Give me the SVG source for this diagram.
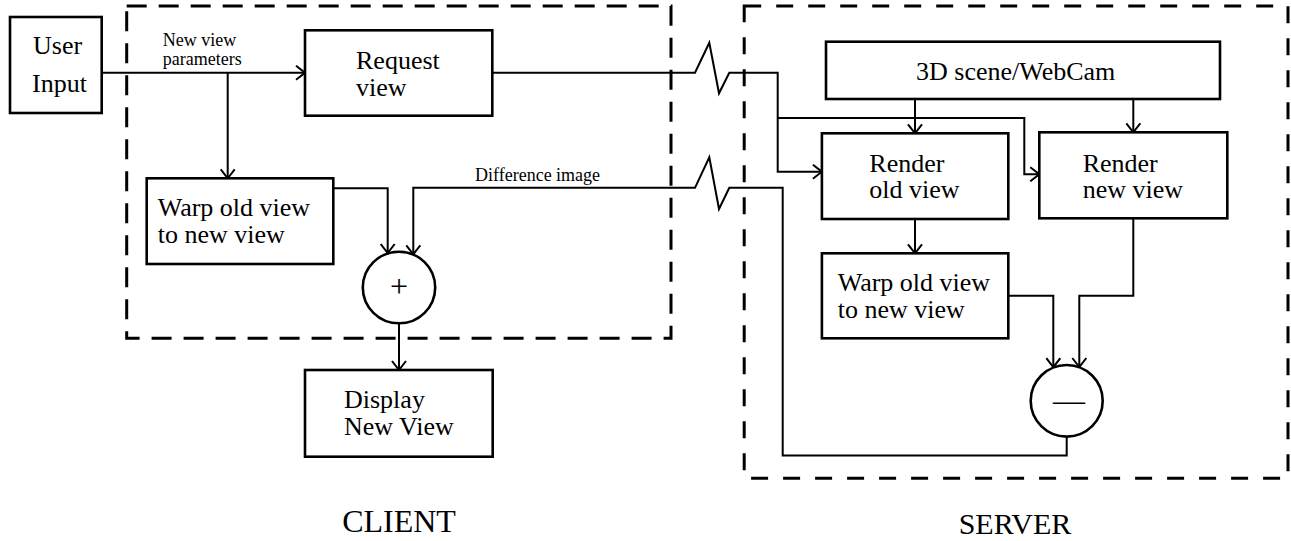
<svg xmlns="http://www.w3.org/2000/svg" width="1291" height="541" viewBox="0 0 1291 541">
<style>
.box{fill:#fff;stroke:#000;stroke-width:2.6}
.circ{fill:#fff;stroke:#000;stroke-width:2.6}
.dash{fill:none;stroke:#000;stroke-width:3}
.ln{fill:none;stroke:#000;stroke-width:2}
.t{font-family:"Liberation Serif","Times New Roman",serif;font-size:26px;fill:#000}
.s{font-family:"Liberation Serif","Times New Roman",serif;font-size:18px;fill:#000}
.big{font-family:"Liberation Serif","Times New Roman",serif;font-size:31px;fill:#000}
</style>
<defs>
<marker id="arr" viewBox="-11 -8 12 16" refX="0" refY="0" markerWidth="12" markerHeight="16" markerUnits="userSpaceOnUse" orient="auto">
<path d="M-9,-7 L0,0 L-9,7" fill="none" stroke="#000" stroke-width="2"/>
</marker>
</defs>
<rect width="1291" height="541" fill="#fff"/>

<g id="client-frame">
<rect class="dash" x="126.7" y="6" width="544.3" height="332.3" stroke-dasharray="20 12"/>
</g>
<g id="server-frame">
<rect class="dash" x="744.2" y="6" width="543.8" height="472.3" stroke-dasharray="17 15"/>
</g>

<g id="connectors">
<path class="ln" d="M101.7,72.7 H305" marker-end="url(#arr)"/>
<path class="ln" d="M227.7,72.7 V178.3" marker-end="url(#arr)"/>
<path class="ln" d="M333.3,188.3 H387.7 V253" marker-end="url(#arr)"/>
<path class="ln" d="M1066.7,436.7 V455.5 H782.7 V187.8 H729.3 L719,209 L709.3,157.3 L695,187.8 H413.3 V254.3" marker-end="url(#arr)"/>
<path class="ln" d="M492.3,72.7 H695 L709.3,42.7 L719,93.3 L729.3,72.7 H777.7 V171.7 H821.9" marker-end="url(#arr)"/>
<path class="ln" d="M777.7,118 H1024.3 V174.3 H1039.3" marker-end="url(#arr)"/>
<path class="ln" d="M915,99 V133.3" marker-end="url(#arr)"/>
<path class="ln" d="M1133.3,99 V132.3" marker-end="url(#arr)"/>
<path class="ln" d="M915,219 V253.3" marker-end="url(#arr)"/>
<path class="ln" d="M1008.3,295.7 H1053.3 V367.2" marker-end="url(#arr)"/>
<path class="ln" d="M1133.3,218.3 V295.7 H1079.3 V367" marker-end="url(#arr)"/>
<path class="ln" d="M399,323.3 V370" marker-end="url(#arr)"/>
<text class="s"><tspan x="162.7" y="45.5">New view</tspan><tspan x="162.7" y="64.5">parameters</tspan></text>
<text class="s" x="475" y="181">Difference image</text>
</g>

<g id="user-input">
<rect class="box" x="10" y="17" width="91.7" height="96"/>
<text class="t"><tspan x="33" y="54">User</tspan><tspan x="32" y="92.3">Input</tspan></text>
</g>

<g id="request-view">
<rect class="box" x="305" y="30.3" width="187.3" height="85.4"/>
<text class="t"><tspan x="356" y="68.5">Request</tspan><tspan x="356" y="95.5">view</tspan></text>
</g>

<g id="client-warp">
<rect class="box" x="146.7" y="178.3" width="186.6" height="85.7"/>
<text class="t"><tspan x="157.7" y="215.7">Warp old view</tspan><tspan x="157.7" y="243">to new view</tspan></text>
</g>

<g id="plus">
<ellipse class="circ" cx="399" cy="287.5" rx="36.2" ry="35.8"/>
<text class="t" x="399" y="297" text-anchor="middle" style="font-size:32px">+</text>
</g>

<g id="display">
<rect class="box" x="305" y="370" width="187.7" height="86.7"/>
<text class="t"><tspan x="344" y="408.3">Display</tspan><tspan x="344" y="435">New View</tspan></text>
</g>

<g id="scene">
<rect class="box" x="826" y="41.7" width="394" height="57.3"/>
<text class="t" x="916" y="80">3D scene/WebCam</text>
</g>

<g id="render-old">
<rect class="box" x="821.9" y="133.3" width="186.4" height="85.7"/>
<text class="t"><tspan x="869.3" y="171.7">Render</tspan><tspan x="869.3" y="198.3">old view</tspan></text>
</g>

<g id="render-new">
<rect class="box" x="1039.3" y="132.3" width="188" height="86"/>
<text class="t"><tspan x="1082.7" y="171.7">Render</tspan><tspan x="1082.7" y="198.3">new view</tspan></text>
</g>

<g id="server-warp">
<rect class="box" x="821.9" y="253.3" width="186.4" height="85"/>
<text class="t"><tspan x="837.7" y="290.5">Warp old view</tspan><tspan x="837.7" y="317.5">to new view</tspan></text>
</g>

<g id="minus">
<ellipse class="circ" cx="1066.7" cy="400.8" rx="36" ry="35.8"/>
<text class="t" x="1069" y="411" text-anchor="middle" style="font-size:32px">—</text>
</g>

<g id="labels">
<text class="big" x="399" y="532" text-anchor="middle" style="font-size:32px">CLIENT</text>
<text class="big" x="1015" y="534" text-anchor="middle" style="font-size:30px">SERVER</text>
</g>
</svg>
